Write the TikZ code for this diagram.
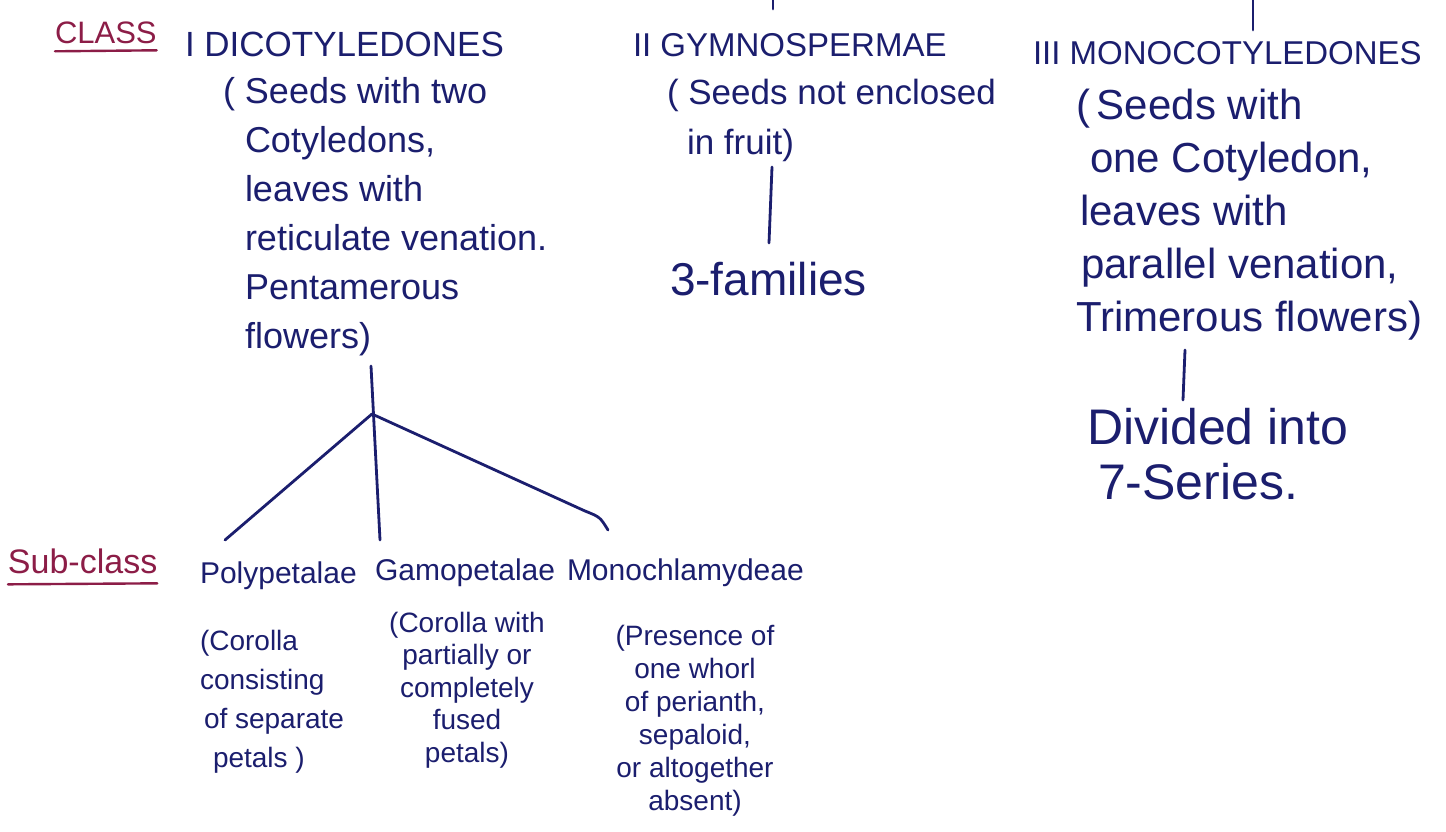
\documentclass[tikz,border=0pt]{standalone}
\usepackage{fontspec}
\setmainfont{Liberation Sans}
\definecolor{ink}{HTML}{1B1E6E}
\definecolor{redink}{HTML}{8C1D47}
\begin{document}
\begin{tikzpicture}[x=1pt,y=-1pt,
  txt/.style={inner sep=0pt, outer sep=0pt, text=ink},
  rtxt/.style={inner sep=0pt, outer sep=0pt, text=redink},
  fsz/.style n args={2}{font=\fontsize{#1}{#2}\selectfont},
  wire/.style={draw=ink, line width=2.8pt, line cap=round},
  rwire/.style={draw=redink, line width=2.4pt, line cap=round}]
\useasboundingbox[fill=white] (0,0) rectangle (1446,832);

% ---- Class I
\node[rtxt, anchor=base west, fsz={31}{36}] (cls) at (55,44) {CLASS};
\draw[rwire] ([yshift=-7pt]cls.south west) -- ([yshift=-6pt]cls.south east);
\node[txt, anchor=base west, fsz={35}{40}] (dicot) at (185,57) {I DICOTYLEDONES};
\node[txt, anchor=north west, align=left, fsz={36}{49}] (dicotd) at (245,77)
  {\llap{( }Seeds with two\\Cotyledons,\\leaves with\\reticulate venation.\\Pentamerous\\flowers)};

% ---- Class II
\node[txt, anchor=base west, fsz={33}{38}] (gym) at (633,57) {II GYMNOSPERMAE};
\node[txt, anchor=north west, align=left, fsz={35}{50}] (gymd) at (667,79)
  {( Seeds not enclosed\\\hspace*{20pt}in fruit)};
\node[txt, anchor=base west, fsz={46}{52}] (fam) at (670,295) {3-families};

% ---- Class III
\node[txt, anchor=base west, fsz={33}{38}] (mono) at (1033,65) {III MONOCOTYLEDONES};
\node[txt, anchor=north west, align=left, fsz={42}{53}] (monod) at (1076,89)
  {(\,Seeds with\\\hspace*{14pt}one Cotyledon,\\\hspace*{4pt}leaves with\\\hspace*{5pt}parallel venation,\\Trimerous flowers)};
\node[txt, anchor=north west, align=left, fsz={50}{55}] (divd) at (1087,408)
  {Divided into\\\hspace*{11pt}7-Series.};

% ---- Sub-classes
\node[rtxt, anchor=base west, fsz={34}{40}] (sub) at (8,573) {Sub-class};
\draw[rwire] ([yshift=-11pt]sub.south west) -- ([yshift=-10pt]sub.south east);
\node[txt, anchor=base west, fsz={30}{36}] (poly) at (200,583) {Polypetalae};
\node[txt, anchor=base west, fsz={30}{36}] (gamo) at (375,580) {Gamopetalae};
\node[txt, anchor=base west, fsz={30}{36}] (monoch) at (567,580) {Monochlamydeae};
\node[txt, anchor=north west, align=left, fsz={28}{39}] (polyd) at (200,630)
  {(Corolla\\consisting\\\hspace*{4pt}of separate\\\hspace*{13pt}petals )};
\node[txt, anchor=north, align=center, fsz={28}{32.5}] (gamod) at (467,612)
  {(Corolla with\\partially or\\completely\\fused\\petals)};
\node[txt, anchor=north, align=center, fsz={28}{33}] (monochd) at (695,625)
  {(Presence of\\one whorl\\of perianth,\\sepaloid,\\or altogether\\absent)};

% ---- connectors
\coordinate (tt1) at (773,0);   \coordinate (tt1e) at (773,9);
\coordinate (tt2) at (1253,0);  \coordinate (tt2e) at (1253,30);
\draw[wire] (tt1) -- (tt1e);
\draw[wire] (tt2) -- (tt2e);

\coordinate (dtop) at (371,366);
\coordinate (br) at (372,414);
\coordinate (polyend) at (225,540);
\coordinate (gamoend) at (380,540);
\coordinate (monobend) at (585,511);
\coordinate (monoend) at (608,530);
\draw[wire] (dtop) -- (gamoend);
\draw[wire] (br) -- (polyend);
\draw[wire] (br) -- (monobend) .. controls (600,517) .. (monoend);

\coordinate (g1) at (772,167); \coordinate (g2) at (769,243);
\draw[wire] (g1) -- (g2);
\coordinate (m1) at (1185,350); \coordinate (m2) at (1183,400);
\draw[wire] (m1) -- (m2);
\end{tikzpicture}
\end{document}
